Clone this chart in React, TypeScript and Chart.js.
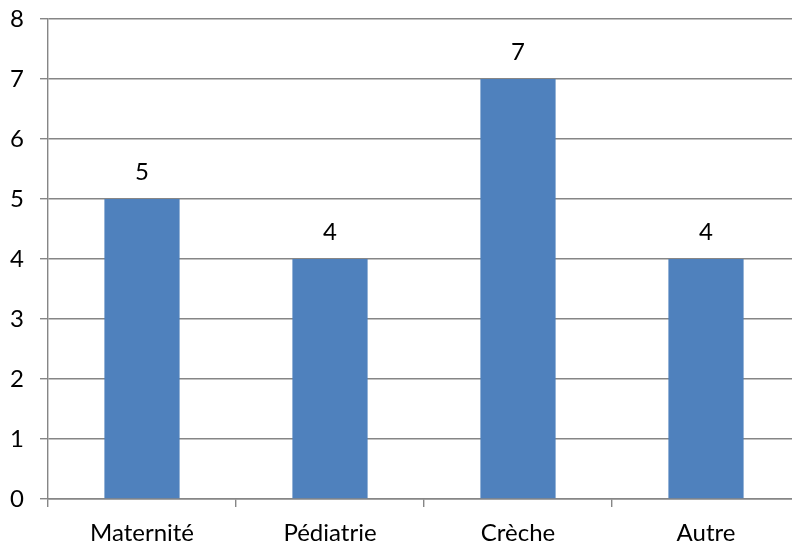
import React, { useEffect, useRef } from "react";
import { Chart, registerables } from "chart.js";

Chart.register(...registerables);

const categories = ["Maternité", "Pédiatrie", "Crèche", "Autre"];
const values = [5, 4, 7, 4];
const yMin = 0;
const yMax = 8;
const yStep = 1;

const FONT = "Lato";
const FONT_SIZE = 24;
const GRID = "#868686";
const BAR = "#4F81BD";

const valueLabels = {
  id: "valueLabels",
  afterDatasetsDraw(chart: any) {
    const ctx = chart.ctx;
    const meta = chart.getDatasetMeta(0);
    ctx.save();
    ctx.font = `${FONT_SIZE}px ${FONT}`;
    ctx.fillStyle = "#000";
    ctx.textAlign = "center";
    ctx.textBaseline = "alphabetic";
    meta.data.forEach((bar: any, i: number) => {
      ctx.fillText(String(values[i]), bar.x, bar.y - 19);
    });
    ctx.restore();
  },
};

export default function App() {
  const ref = useRef<HTMLCanvasElement>(null);
  useEffect(() => {
    if (!ref.current) return;
    const chart = new Chart(ref.current, {
      type: "bar",
      data: {
        labels: categories,
        datasets: [
          {
            data: values,
            backgroundColor: BAR,
            borderWidth: 0,
            barPercentage: 0.4,
            categoryPercentage: 1,
          },
        ],
      },
      options: {
        responsive: false,
        animation: false,
        layout: { padding: { top: 19, right: 10, left: 0, bottom: 0 } },
        plugins: { legend: { display: false }, tooltip: { enabled: false } },
        scales: {
          x: {
            afterFit: (s: any) => {
              s.height = 48;
              s.paddingLeft = 0;
              s.paddingRight = 0;
            },
            grid: {
              drawOnChartArea: false,
              drawTicks: true,
              tickLength: 8,
              color: GRID,
              lineWidth: 1.4,
            },
            border: { display: true, color: GRID, width: 1.4 },
            ticks: {
              color: "#000",
              font: { family: FONT, size: FONT_SIZE, lineHeight: 1.2 },
              padding: 12,
              maxRotation: 0,
            },
          },
          y: {
            min: yMin,
            max: yMax,
            afterFit: (s: any) => {
              s.width = 48;
              s.paddingTop = 0;
              s.paddingBottom = 0;
            },
            grid: {
              color: GRID,
              lineWidth: 1.4,
              tickLength: 8,
            },
            border: { display: true, color: GRID, width: 1.4 },
            ticks: {
              stepSize: yStep,
              color: "#000",
              font: { family: FONT, size: FONT_SIZE, lineHeight: 1.2 },
              padding: 16,
            },
          },
        },
      },
      plugins: [valueLabels],
    });
    return () => chart.destroy();
  }, []);
  return (
    <div
      style={{
        position: "fixed",
        left: 0,
        top: 0,
        width: 792,
        height: 547,
        overflow: "hidden",
        background: "#fff",
      }}
    >
      <canvas ref={ref} width={810} height={547} style={{ display: "block" }} />
    </div>
  );
}
